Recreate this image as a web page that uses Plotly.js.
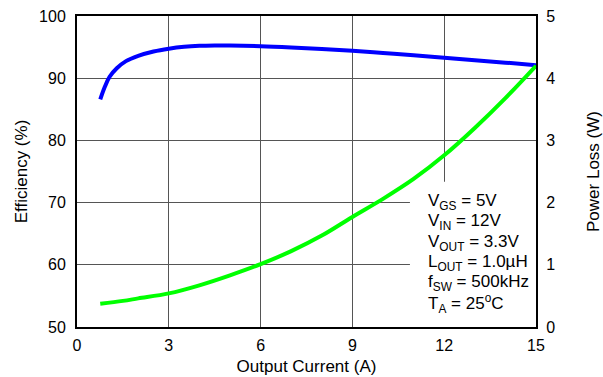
<!DOCTYPE html>
<html>
<head>
<meta charset="utf-8">
<script src="https://cdn.plot.ly/plotly-3.0.1.min.js"></script>
<style>html,body{margin:0;padding:0;background:#fff;}#chart{width:603px;height:377px;}</style>
</head>
<body>
<div id="chart"></div>
<script>
// Output current (A) for efficiency curve
const effCurrent = [0.76, 0.9, 1.06, 1.3, 1.6, 2.0, 2.5, 3, 3.5, 4, 4.5, 5, 6, 7, 8, 9, 10, 11, 12, 13, 14, 15];
// Efficiency (%)
const efficiency = [86.6, 88.5, 90.2, 91.6, 92.75, 93.6, 94.3, 94.75, 95.05, 95.2, 95.25, 95.25, 95.15, 94.95, 94.7, 94.4, 94.05, 93.7, 93.3, 92.9, 92.5, 92.1];
// Output current (A) for power loss curve
const lossCurrent = [0.76, 1.5, 2, 3, 4, 5, 6, 7, 8, 9, 10, 11, 12, 13, 14, 15];
// Power loss (W)
const powerLoss = [0.375, 0.42, 0.46, 0.54, 0.67, 0.83, 1.01, 1.22, 1.47, 1.77, 2.06, 2.38, 2.76, 3.2, 3.68, 4.2];
// Axis ticks
const xTicks = [0, 3, 6, 9, 12, 15];
const effTicks = [50, 60, 70, 80, 90, 100];
const lossTicks = [0, 1, 2, 3, 4, 5];
// Test conditions text
const conditions = [
  "V<sub>GS</sub> = 5V",
  "V<sub>IN</sub> = 12V",
  "V<sub>OUT</sub> = 3.3V",
  "L<sub>OUT</sub> = 1.0µH",
  "f<sub>SW</sub> = 500kHz",
  "T<sub>A</sub> = 25<sup>o</sup>C"
];

const FONT = "Liberation Sans, Arial, sans-serif";

const traces = [
  {
    x: effCurrent, y: efficiency, type: "scatter", mode: "lines",
    line: {color: "#0000ff", width: 4, shape: "spline", smoothing: 1},
    yaxis: "y", hoverinfo: "skip"
  },
  {
    x: lossCurrent, y: powerLoss, type: "scatter", mode: "lines",
    line: {color: "#00ff00", width: 4, shape: "spline", smoothing: 1},
    yaxis: "y2", hoverinfo: "skip"
  }
];

const annotations = conditions.map((t, i) => ({
  xref: "paper", yref: "paper",
  x: (425.5 - 77) / 459, y: 1 - (202 + i * 20.3 - 16) / 311,
  xanchor: "left", yanchor: "middle",
  text: t, showarrow: false,
  font: {family: FONT, size: 17, color: "#000"}
}));

const layout = {
  width: 603, height: 377,
  margin: {l: 77, r: 67, t: 16, b: 50},
  paper_bgcolor: "#fff", plot_bgcolor: "#fff",
  showlegend: false,
  font: {family: FONT, size: 16, color: "#000"},
  xaxis: {
    range: [0, 15], tickvals: xTicks, ticktext: xTicks.map(String),
    showgrid: true, gridcolor: "#555", gridwidth: 1, zeroline: false,
    showline: true, linecolor: "#000", linewidth: 2, mirror: true,
    ticks: "outside", ticklen: 3, tickcolor: "rgba(0,0,0,0)",
    tickfont: {family: FONT, size: 16},
    title: {text: "Output Current (A)", font: {family: FONT, size: 17}, standoff: 7}
  },
  yaxis: {
    range: [50, 100], tickvals: effTicks, ticktext: effTicks.map(String),
    showgrid: true, gridcolor: "#555", gridwidth: 1, zeroline: false,
    showline: true, linecolor: "#000", linewidth: 2, mirror: true,
    ticks: "outside", ticklen: 6, tickcolor: "rgba(0,0,0,0)",
    tickfont: {family: FONT, size: 16},
    title: {text: "Efficiency (%)", font: {family: FONT, size: 17}, standoff: 7}
  },
  yaxis2: {
    overlaying: "y", side: "right",
    range: [0, 5], tickvals: lossTicks, ticktext: lossTicks.map(String),
    showgrid: false, zeroline: false, showline: false,
    ticks: "outside", ticklen: 6, tickcolor: "rgba(0,0,0,0)",
    tickfont: {family: FONT, size: 16},
    title: {text: "Power Loss (W)", font: {family: FONT, size: 17}, standoff: 32}
  },
  shapes: [{
    type: "rect", xref: "x", yref: "y", layer: "between",
    x0: 10.88, x1: 15, y0: 50, y1: 73.36,
    fillcolor: "#fff", line: {width: 0}
  }],
  annotations: annotations
};

Plotly.newPlot("chart", traces, layout, {staticPlot: true, displayModeBar: false});
</script>
</body>
</html>
